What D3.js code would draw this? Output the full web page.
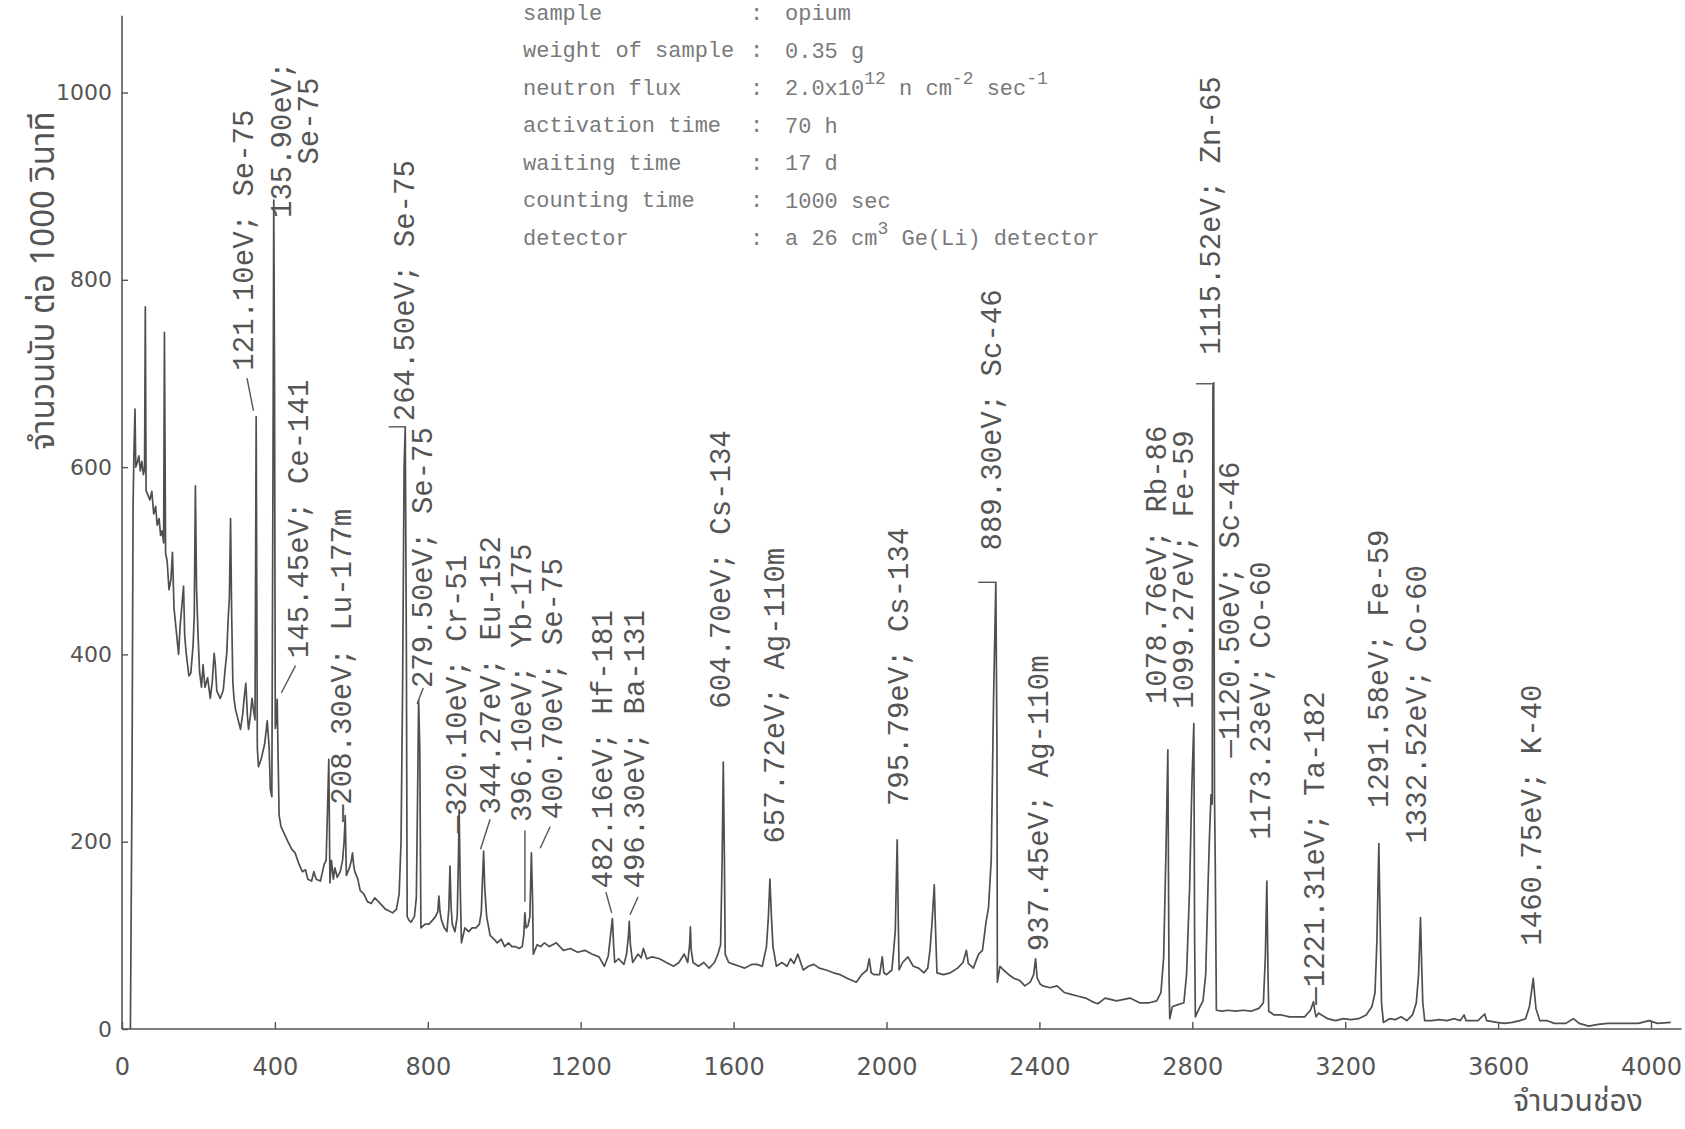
<!DOCTYPE html>
<html>
<head>
<meta charset="utf-8">
<script src="https://cdn.jsdelivr.net/npm/d3@7"></script>
<style>
  body { margin: 0; background: #fff; }
</style>
</head>
<body>
<div id="chart"></div>
<script>
// tick values of both axes
const xTicks = [0, 400, 800, 1200, 1600, 2000, 2400, 2800, 3200, 3600, 4000];
const yTicks = [0, 200, 400, 600, 800, 1000];

// spectrum: [channel, counts per 1000 s]
const spectrumLow = [
  [22,0],[26,250],[29,560],[31,610],[34,662],[36,600],[40,605],[44,612],[48,596],[52,606],[56,592],[59,598],
  [61,771],[63,575],[68,570],[73,565],[78,574],[83,550],[88,558],[92,538],[97,545],[101,527],[105,532],[109,519],
  [111,744],[114,508],[118,500],[123,469],[128,480],[132,509],[136,450],[142,425],[148,400],[152,430],[156,449],
  [161,473],[164,420],[168,401],[175,377],[180,380],[186,410],[189,441],[192,580],[195,470],[199,420],[203,381],
  [208,365],[212,389],[217,365],[224,375],[231,353],[236,370],[241,401],[244,390],[248,361],[257,353],[265,362],
  [270,385],[274,401],[278,440],[281,461],[284,545],[287,440],[290,370],[293,353],[297,341],[302,333],[310,320],
  [316,337],[320,355],[324,369],[328,335],[331,320],[336,335],[340,353],[344,341],[348,330],[351,654],[354,300],
  [357,280],[364,288],[373,304],[380,329],[385,300],[388,256],[392,248],[395,600],[397,885],[399,700],[401,321],
  [404,330],[406,352],[408,300],[411,228],[416,216],[425,208],[434,200],[444,192],[453,188],[463,176],[472,168],
  [480,170],[486,160],[496,158],[502,168],[508,160],[519,158],[529,176],[534,180],[538,240],[541,288],[544,156],
  [548,180],[553,160],[557,172],[563,162],[571,168],[577,180],[581,200],[584,228],[587,164],[595,172],[600,180],
  [603,188],[606,175],[609,168],[617,160],[623,148],[633,144],[642,136],[652,134],[661,140],[671,136],[680,132],
  [689,128],[699,126],[708,124],[718,128],[725,144],[730,200],[734,361],[738,600],[741,643],[744,400],[746,120],
  [751,116],[756,114],[765,120],[770,140],[773,240],[776,351],[779,300],[782,108],[793,112],[803,112],[812,116],
  [820,120],[826,125],[829,142],[832,125],[836,116],[843,108],[850,104],[855,128],[858,174],[861,130],[864,112],
  [871,104],[877,120],[880,180],[882,234],[885,150],[888,92],[897,108],[907,104],[916,108],[926,108],[935,112],
  [940,125],[942,148],[946,190],[949,150],[954,120],[963,100],[973,96],[982,92],[992,96],[1001,88],[1011,92],
  [1020,88],[1029,88],[1039,86],[1047,88],[1051,100],[1054,124],[1057,108],[1062,110],[1067,120],[1071,188],
  [1074,140],[1076,80],[1086,90],[1095,88],[1105,92]
];
const spectrumMid = [
  [1118,88],[1136,92],[1155,84],[1173,86],[1192,82],[1211,84],[1229,80],[1248,77],[1262,67],[1272,78],[1278,100],
  [1283,118],[1286,90],[1289,71],[1299,75],[1313,69],[1320,80],[1325,100],[1327,115],[1330,90],[1336,71],[1350,80],
  [1358,76],[1364,86],[1373,75],[1387,77],[1406,75],[1424,71],[1443,67],[1457,71],[1471,80],[1480,71],[1485,90],
  [1487,109],[1489,85],[1494,71],[1508,67],[1522,71],[1536,65],[1550,71],[1559,80],[1566,90],[1570,180],[1573,285],
  [1576,180],[1578,80],[1587,71],[1601,69],[1615,67],[1629,65],[1647,69],[1661,69],[1675,67],[1686,88],[1691,120],
  [1695,160],[1699,120],[1703,88],[1712,67],[1726,71],[1740,67],[1749,75],[1758,70],[1768,80],[1782,63],[1796,67],
  [1810,69],[1824,65],[1842,63],[1861,60],[1879,58],[1898,54],[1921,50],[1935,58],[1949,63],[1955,75],[1960,60],
  [1968,58],[1982,58],[1989,77],[1993,60],[2000,58],[2014,63],[2019,85],[2023,105],[2028,202],[2031,110],[2033,63],
  [2042,71],[2056,77],[2070,67],[2084,65],[2098,60],[2108,65],[2114,85],[2119,113],[2125,154],[2128,110],[2132,60],
  [2149,58],[2167,60],[2186,65],[2200,71],[2209,84],[2214,70],[2227,65],[2241,80],[2251,84],[2256,100],[2260,113],
  [2267,130],[2274,181],[2280,350],[2286,477],[2289,300],[2290,50],[2297,67],[2306,63],[2320,58],[2334,54],[2348,52],
  [2362,46],[2376,50],[2385,58],[2390,75],[2394,55],[2402,48],[2409,46],[2428,44],[2446,46],[2465,39],[2483,37],
  [2502,35],[2521,33],[2539,29],[2553,27]
];
const spectrumHigh = [
  [2572,33],[2602,30],[2637,33],[2662,28],[2687,28],[2707,30],[2718,39],[2725,76],[2731,188],[2736,298],[2739,60],
  [2741,11],[2748,24],[2763,26],[2778,28],[2785,58],[2793,151],[2799,262],[2804,326],[2806,100],[2808,13],[2818,22],
  [2828,30],[2835,58],[2841,151],[2845,206],[2849,250],[2852,240],[2854,686],[2856,690],[2858,250],[2860,180],
  [2863,20],[2878,19],[2893,20],[2913,19],[2933,20],[2954,19],[2974,22],[2986,28],[2991,76],[2995,158],[2998,60],
  [3000,19],[3014,15],[3034,15],[3054,13],[3074,13],[3094,13],[3109,20],[3117,29],[3121,18],[3124,13],[3130,17],
  [3134,16],[3154,11],[3175,9],[3195,11],[3215,10],[3235,11],[3255,15],[3270,24],[3278,39],[3283,95],[3288,198],
  [3292,100],[3295,28],[3300,7],[3316,11],[3331,10],[3346,13],[3361,9],[3376,15],[3386,28],[3392,58],[3397,119],
  [3400,70],[3403,28],[3408,9],[3426,9],[3446,10],[3466,9],[3486,11],[3501,9],[3511,15],[3516,9],[3547,9],[3565,16],
  [3570,9],[3597,7],[3617,6],[3637,7],[3657,9],[3672,11],[3682,24],[3692,54],[3696,35],[3699,22],[3709,9],[3727,9],
  [3747,6],[3777,6],[3797,11],[3812,6],[3837,3],[3862,5],[3887,6],[3912,6],[3937,6],[3967,6],[3995,9],[4017,6],[4052,7]
];

// peak labels: text, and where the typed label starts [channel, counts]
const peakLabels = [
  ["121.10eV; Se-75", 322, 703],
  ["135.90eV;", 422, 866],
  ["Se-75", 492, 923],
  ["145.45eV; Ce-141", 468, 396],
  ["—208.30eV; Lu-177m", 580, 221],
  ["264.50eV; Se-75", 743, 649],
  ["279.50eV; Se-75", 791, 364],
  ["—320.10eV; Cr-51", 881, 209],
  ["344.27eV; Eu-152", 968, 229],
  ["396.10eV; Yb-175", 1050, 221],
  ["400.70eV; Se-75", 1131, 224],
  ["482.16eV; Hf-181", 1263, 150],
  ["496.30eV; Ba-131", 1347, 150],
  ["604.70eV; Cs-134", 1570, 342],
  ["657.72eV; Ag-110m", 1711, 198],
  ["795.79eV; Cs-134", 2037, 238],
  ["889.30eV; Sc-46", 2281, 511],
  ["937.45eV; Ag-110m", 2402, 83],
  ["1078.76eV; Rb-86", 2711, 347],
  ["1099.27eV; Fe-59", 2781, 342],
  ["1115.52eV; Zn-65", 2852, 720],
  ["—1120.50eV; Sc-46", 2902, 290],
  ["1173.23eV; Co-60", 2984, 202],
  ["—1221.31eV; Ta-182", 3124, 26],
  ["1291.58eV; Fe-59", 3293, 236],
  ["1332.52eV; Co-60", 3392, 198],
  ["1460.75eV; K-40", 3692, 89]
];

// short pointer strokes from peaks to labels [ch1, c1, ch2, c2]
const leaders = [
  [344, 660, 327, 695],
  [417, 359, 454, 388],
  [698, 643, 741, 643],
  [772, 347, 788, 364],
  [938, 192, 963, 224],
  [1054, 136, 1054, 212],
  [1094, 193, 1120, 216],
  [1281, 124, 1266, 146],
  [1329, 122, 1350, 141],
  [2240, 477, 2286, 477],
  [2810, 689, 2856, 689]
];

// measurement conditions (typed block at the top)
const infoKeys = ["sample", "weight of sample", "neutron flux", "activation time",
                  "waiting time", "counting time", "detector"];
const infoValues = [
  [["opium"]],
  [["0.35 g"]],
  [["2.0x10"], ["12", 1], [" n cm"], ["-2", 1], [" sec"], ["-1", 1]],
  [["70 h"]],
  [["17 d"]],
  [["1000 sec"]],
  [["a 26 cm"], ["3", 1], [" Ge(Li) detector"]]
];

const yTitle = "จำนวนนับ ต่อ 1000 วินาที";
const xTitle = "จำนวนช่อง";

const W = 1685, H = 1129;
const ink = "#555";
const mono = "'Liberation Mono', 'DejaVu Sans Mono', monospace";
const thai = "'Noto Sans Thai', 'Noto Serif Thai', 'Loma', 'Garuda', 'Tlwg Typo', 'Noto Sans', sans-serif";

const svg = d3.select("#chart").append("svg")
    .attr("width", W)
    .attr("height", H)
    .style("background", "#fff");

const x = d3.scaleLinear().domain([0, 4000]).range([122, 1651]);
const y = d3.scaleLinear().domain([0, 1000]).range([1029, 92.5]);

// axes
const xAxis = svg.append("g")
    .attr("transform", "translate(0," + y(0) + ")")
    .call(d3.axisBottom(x).tickValues(xTicks).tickFormat(d3.format("d")).tickSize(-7).tickPadding(29));
const yAxis = svg.append("g")
    .attr("transform", "translate(" + x(0) + ",0)")
    .call(d3.axisLeft(y).tickValues(yTicks).tickFormat(d3.format("d")).tickSize(-6).tickPadding(10));

[xAxis, yAxis].forEach(g => {
    g.select(".domain").remove();
    g.selectAll("line").attr("stroke", ink).attr("stroke-width", 1.4);
    g.selectAll("text")
        .attr("fill", ink)
        .style("font-family", "'DejaVu Sans', sans-serif");
});
xAxis.selectAll("text").style("font-size", "24px");
yAxis.selectAll("text").style("font-size", "22px");

// long axis lines (they run a little past the last tick)
svg.append("line")
    .attr("x1", x(0)).attr("x2", x(4080))
    .attr("y1", y(0)).attr("y2", y(0))
    .attr("stroke", ink).attr("stroke-width", 1.6);
svg.append("line")
    .attr("x1", x(0)).attr("x2", x(0))
    .attr("y1", y(0)).attr("y2", y(1082))
    .attr("stroke", ink).attr("stroke-width", 1.6);

// the spectrum
const spectrum = spectrumLow.concat(spectrumMid, spectrumHigh);
const line = d3.line().x(d => x(d[0])).y(d => y(d[1]));
svg.append("path")
    .datum(spectrum)
    .attr("d", line)
    .attr("fill", "none")
    .attr("stroke", "#4f4f4f")
    .attr("stroke-width", 1.7)
    .attr("stroke-linejoin", "round");

// leaders
svg.selectAll("line.leader")
    .data(leaders)
    .enter().append("line")
    .attr("class", "leader")
    .attr("x1", d => x(d[0])).attr("y1", d => y(d[1]))
    .attr("x2", d => x(d[2])).attr("y2", d => y(d[3]))
    .attr("stroke", ink).attr("stroke-width", 1.4);

// peak labels, typed sideways
svg.selectAll("text.peak")
    .data(peakLabels)
    .enter().append("text")
    .attr("class", "peak")
    .attr("transform", d => "translate(" + x(d[1]) + "," + y(d[2]) + ") rotate(-90)")
    .attr("dominant-baseline", "central")
    .attr("fill", ink)
    .style("font-family", mono)
    .style("font-size", "29px")
    .text(d => d[0]);

// info block
const info = svg.append("g").attr("fill", "#7a7a7a")
    .style("font-family", mono).style("font-size", "22px");
infoKeys.forEach((k, i) => {
    const ty = 14 + i * 37.5;
    info.append("text").attr("x", 523).attr("y", ty)
        .attr("dominant-baseline", "central").text(k);
    info.append("text").attr("x", 750).attr("y", ty)
        .attr("dominant-baseline", "central").text(":");
    const t = info.append("text").attr("x", 785).attr("y", ty)
        .attr("dominant-baseline", "central");
    let up = false;
    infoValues[i].forEach(seg => {
        const sup = seg[1] === 1;
        const ts = t.append("tspan").text(seg[0]);
        if (sup && !up) { ts.attr("dy", -10).style("font-size", "18px"); up = true; }
        else if (sup) { ts.style("font-size", "18px"); }
        else if (up) { ts.attr("dy", 10); up = false; }
    });
});

// axis titles
svg.append("text")
    .attr("transform", "translate(44,281) rotate(-90)")
    .attr("text-anchor", "middle")
    .attr("dominant-baseline", "central")
    .attr("fill", ink)
    .style("font-family", thai)
    .style("font-size", "33px")
    .text(yTitle);

svg.append("text")
    .attr("x", 1578).attr("y", 1102)
    .attr("text-anchor", "middle")
    .attr("dominant-baseline", "central")
    .attr("fill", ink)
    .style("font-family", thai)
    .style("font-size", "30px")
    .text(xTitle);
</script>
</body>
</html>
